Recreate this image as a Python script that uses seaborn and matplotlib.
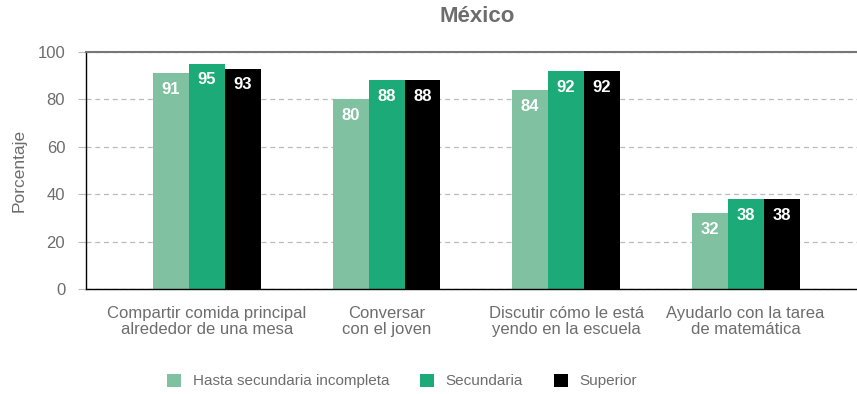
import matplotlib
matplotlib.use("Agg")
import matplotlib.pyplot as plt
import seaborn as sns
import pandas as pd
from matplotlib.patches import Patch

categories = ["Compartir comida principal\nalrededor de una mesa",
              "Conversar\ncon el joven",
              "Discutir cómo le está\nyendo en la escuela",
              "Ayudarlo con la tarea\nde matemática"]
series = ["Hasta secundaria incompleta", "Secundaria", "Superior"]
hasta = [91, 80, 84, 32]
secundaria = [95, 88, 92, 38]
superior = [93, 88, 92, 38]
colors = ["#7fc1a0", "#1baa78", "#000000"]

rows = []
for s, vals in zip(series, [hasta, secundaria, superior]):
    for c, v in zip(categories, vals):
        rows.append({"cat": c, "serie": s, "val": v})
df = pd.DataFrame(rows)

sns.set_theme(style="white")
plt.rcParams['font.family'] = ['Liberation Sans', 'DejaVu Sans']
gray = "#6d6d6d"

fig = plt.figure(figsize=(8.57, 3.94), dpi=100)
ax = fig.add_axes([86/857, 1-289/394, 1-86/857, (289-52)/394])
sns.barplot(data=df, x="cat", y="val", hue="serie", palette=colors,
            width=0.6, order=categories, hue_order=series, ax=ax,
            legend=False, saturation=1, linewidth=0)

for cont in ax.containers:
    ax.bar_label(cont, fmt="%d", padding=-17, color="white",
                 fontsize=12, fontweight="bold")

ax.set_ylim(0, 100)
ax.set_xlim(-0.674, 3.62)
ax.set_yticks([0, 20, 40, 60, 80, 100])
ax.yaxis.grid(True, linestyle=(0, (4, 3)), color="#bbbbbb", linewidth=0.9)
ax.set_axisbelow(True)
ax.tick_params(axis="y", left=True, length=6, width=0.8, color="#bbbbbb",
               labelsize=12, labelcolor=gray, pad=9)
ax.tick_params(axis="x", bottom=False, labelsize=12, labelcolor=gray, pad=6)
for lab in ax.get_xticklabels():
    lab.set_linespacing(1.1)
ax.set_xlabel("")
ax.set_ylabel("Porcentaje", fontsize=12.5, color=gray)
ax.yaxis.set_label_coords((27 - 86) / 771, 0.5)
for side in ["left", "bottom"]:
    ax.spines[side].set_color("#000000")
    ax.spines[side].set_linewidth(1.0)
ax.spines["top"].set_color("#777777")
ax.spines["top"].set_linewidth(1.5)
ax.spines["right"].set_visible(False)

fig.text(477/857, 1-17/394, "México", ha="center", va="center",
         fontsize=16, fontweight="bold", color=gray)

handles = [Patch(facecolor=c, edgecolor="none") for c in colors]
fig.legend(handles, series, loc="center", bbox_to_anchor=(402/857, 1-381/394),
           ncol=3, frameon=False, fontsize=11, labelcolor=gray,
           handlelength=0.95, handleheight=0.95, columnspacing=2.0,
           handletextpad=0.75)

fig.savefig("out.png", dpi=100)
